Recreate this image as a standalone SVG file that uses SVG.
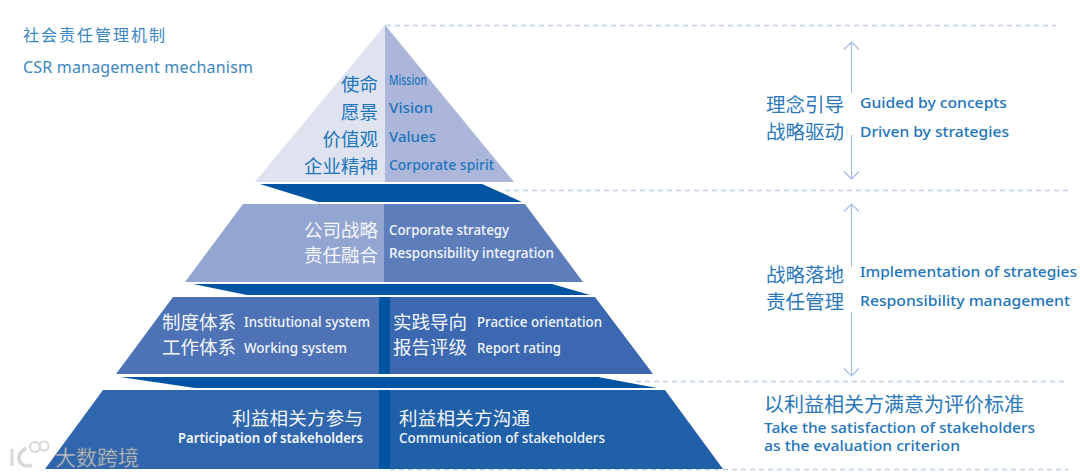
<svg xmlns="http://www.w3.org/2000/svg" width="1080" height="476" viewBox="0 0 1080 476">
<style>
text{font-family:"Noto Sans","Noto Sans CJK SC",sans-serif}
.b{fill:#2175ba}
.cn{font-size:18.5px}
.cr{font-size:19.5px;fill:#2a78ba}
.en{font-size:14.5px;font-weight:500}
.w{fill:#f4f7fb}
.wen{font-size:14px;font-weight:500;fill:#f4f7fb}
.band{fill:#0054a2}
.dash{stroke:#bcd0e8;stroke-width:1.3;stroke-dasharray:5 4;fill:none}
.arr{stroke:#a3bedf;stroke-width:1.2;fill:none}
.e{text-anchor:end}
</style>
<rect width="1080" height="476" fill="#fff"/>
<g id="connectors">
<path class="dash" d="M386 25.500H1056M505 190.500H1068M636 381.500H1068M390 469.500H1068"/>
<path class="arr" d="M851.500 93V42M844 49.500L851.500 42L859 49.500M851.500 135V179M844 171.500L851.500 179L859 171.500M851.500 267V204M844 211.500L851.500 204L859 211.500M851.500 312V376M844 368.500L851.500 376L859 368.500"/>
</g>
<g id="title">
<text x="23" y="41" font-size="16" fill="#3a86c0" textLength="142">社会责任管理机制</text>
<text x="23" y="73" font-size="16" fill="#3a86c0" textLength="230">CSR management mechanism</text>
</g>
<g id="tier1">
<polygon points="385,25 255,182 385,182" fill="#dfe3f0"/>
<polygon points="385,25 514,182 385,182" fill="#abb6da"/>
<text class="b cn e" x="378" y="91">使命</text>
<text class="b cn e" x="378" y="119">愿景</text>
<text class="b cn e" x="378" y="146">价值观</text>
<text class="b cn e" x="378" y="173">企业精神</text>
<text class="b en" x="389" y="85" textLength="38" lengthAdjust="spacingAndGlyphs">Mission</text>
<text class="b en" x="389" y="113" textLength="44" lengthAdjust="spacingAndGlyphs">Vision</text>
<text class="b en" x="389" y="142" textLength="47" lengthAdjust="spacingAndGlyphs">Values</text>
<text class="b en" x="389" y="170" textLength="105" lengthAdjust="spacingAndGlyphs">Corporate spirit</text>
</g>
<polygon id="band1" class="band" points="260,184 482,184 522,202 318,202"/>
<g id="tier2">
<polygon points="243,204 384,204 384,282 185,282" fill="#93a5d1"/>
<polygon points="384,204 525,204 583,282 384,282" fill="#5e7ebb"/>
<text class="w cn e" x="378" y="237">公司战略</text>
<text class="w cn e" x="378" y="262">责任融合</text>
<text class="wen" x="389" y="235" textLength="120" lengthAdjust="spacingAndGlyphs">Corporate strategy</text>
<text class="wen" x="389" y="258" textLength="165" lengthAdjust="spacingAndGlyphs">Responsibility integration</text>
</g>
<polygon id="band2" class="band" points="193,284 552,284 590,295 247,295"/>
<g id="tier3">
<polygon points="173,297 379,297 379,374 116,374" fill="#4d72b5"/>
<polygon points="390,297 595,297 653,374 390,374" fill="#3b68b0"/>
<rect x="379" y="297" width="11" height="77" fill="#0054a2"/>
<text class="w cn" x="162" y="329">制度体系</text>
<text class="w cn" x="162" y="354">工作体系</text>
<text class="wen" x="244" y="327" textLength="126" lengthAdjust="spacingAndGlyphs">Institutional system</text>
<text class="wen" x="244" y="353" textLength="103" lengthAdjust="spacingAndGlyphs">Working system</text>
<text class="w cn" x="393" y="329">实践导向</text>
<text class="w cn" x="393" y="354">报告评级</text>
<text class="wen" x="477" y="327" textLength="125" lengthAdjust="spacingAndGlyphs">Practice orientation</text>
<text class="wen" x="477" y="353" textLength="84" lengthAdjust="spacingAndGlyphs">Report rating</text>
</g>
<polygon id="band3" class="band" points="120,377 598,377 657,388 195,388"/>
<g id="tier4">
<polygon points="103,390 379,390 379,469 45,469" fill="#2f66ae"/>
<polygon points="390,390 665,390 723,469 390,469" fill="#2060a9"/>
<rect x="379" y="390" width="11" height="79" fill="#0054a2"/>
<text class="w cn e" x="363" y="425" textLength="131">利益相关方参与</text>
<text class="wen e" x="363" y="443" font-weight="600" style="font-weight:600" textLength="185" lengthAdjust="spacingAndGlyphs">Participation of stakeholders</text>
<text class="w cn" x="399" y="425" textLength="131">利益相关方沟通</text>
<text class="wen" x="399" y="443" textLength="206" lengthAdjust="spacingAndGlyphs">Communication of stakeholders</text>
</g>
<g id="label1">
<text class="cr" x="766" y="112">理念引导</text>
<text class="cr" x="766" y="139">战略驱动</text>
<text class="b en" x="860" y="108" textLength="147" lengthAdjust="spacingAndGlyphs">Guided by concepts</text>
<text class="b en" x="860" y="137" textLength="149" lengthAdjust="spacingAndGlyphs">Driven by strategies</text>
</g>
<g id="label2">
<text class="cr" x="766" y="282">战略落地</text>
<text class="cr" x="766" y="309">责任管理</text>
<text class="b en" x="860" y="277" textLength="217" lengthAdjust="spacingAndGlyphs">Implementation of strategies</text>
<text class="b en" x="860" y="306" textLength="210" lengthAdjust="spacingAndGlyphs">Responsibility management</text>
</g>
<g id="label3">
<text class="cr" x="764" y="412" style="font-size:20px">以利益相关方满意为评价标准</text>
<text class="b en" x="764" y="433" textLength="271" lengthAdjust="spacingAndGlyphs">Take the satisfaction of stakeholders</text>
<text class="b en" x="764" y="451" textLength="196" lengthAdjust="spacingAndGlyphs">as the evaluation criterion</text>
</g>
<g id="watermark" opacity="0.85">
<path d="M12 449V466" fill="none" stroke="#cfd2d6" stroke-width="3"/>
<path d="M26 448q-10 7 -6 14q4 6 12 3" fill="none" stroke="#cfd2d6" stroke-width="3.500"/>
<circle cx="35" cy="447" r="5" fill="none" stroke="#cfd2d6" stroke-width="2"/>
<circle cx="44" cy="446" r="4.500" fill="none" stroke="#cfd2d6" stroke-width="2"/>
<text x="55" y="465" font-size="21" fill="#d2d5d9" stroke="#6f757d" stroke-width="0.4">大数跨境</text>
</g>
</svg>
